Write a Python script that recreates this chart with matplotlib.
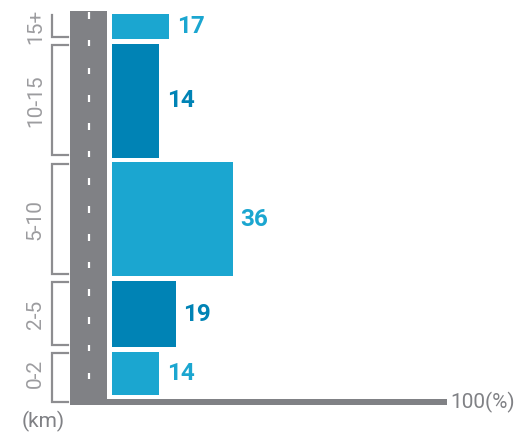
import numpy as np
import matplotlib.pyplot as plt
from matplotlib.patches import Rectangle

# distance bins (km) and share of trips (%)
categorias = ['0-2', '2-5', '5-10', '10-15', '15+']
limites = [0, 2, 5, 10, 15, 16.25]
valores = [14, 19, 36, 14, 17]

azul_claro = '#1ba6d0'
azul_oscuro = '#0083b5'
gris = '#808185'
gris_claro = '#9c9c9f'
colores = [azul_claro, azul_oscuro, azul_claro, azul_oscuro, azul_claro]

fig = plt.figure(figsize=(5.19, 4.32), dpi=100)
ax = fig.add_axes([0, 0, 1, 1])
ax.set_xlim(-33.33, 121.13)
ax.set_ylim(-1.477, 16.75)
ax.axis('off')

# carretera
ax.add_patch(Rectangle((-12.5, -0.34), 11.0, 16.63, color=gris, lw=0, zorder=1))
y_raya = np.arange(16.1, -0.2, -1.17)
ax.vlines(np.full(len(y_raya), -6.9), y_raya - 0.14, y_raya + 0.14,
          color='white', lw=1.6, zorder=2)

# eje horizontal
ax.add_patch(Rectangle((-1.6, -0.32), 101.4, 0.23, color=gris, lw=0, zorder=1))
ax.text(100.6, -0.21, '100(%)', ha='left', va='center', fontsize=15,
        color=gris, family='Roboto')
ax.text(-20.4, -1.02, '(km)', ha='center', va='center', fontsize=15,
        color=gris, family='Roboto')

hueco = 0.1
for i, (cat, val) in enumerate(zip(categorias, valores)):
    y0, y1 = limites[i], limites[i + 1]
    ax.barh(y0 + hueco, val, height=(y1 - y0) - 2 * hueco, left=0,
            align='edge', color=colores[i], lw=0, zorder=3)
    ax.text(val + 2.3, (y0 + y1) / 2, str(val), ha='left', va='center',
            fontsize=17.5, fontweight='bold', color=colores[i], family='Roboto')

    # corchete del intervalo
    b0 = -0.2 if i == 0 else y0 + 0.2
    b1 = y1 - 0.15
    xs = [-13.1, -17.86, -17.86]
    ys = [b0, b0, b1]
    if i < len(categorias) - 1:
        xs.append(-13.1)
        ys.append(b1)
    ax.plot(xs, ys, color='#8d8d90', lw=1.6, solid_joinstyle='miter', zorder=2)
    ax.text(-22.8, (y0 + y1) / 2, cat, rotation=90, ha='center', va='center',
            fontsize=15, color=gris_claro, family='Roboto')

fig.savefig('out.png', dpi=100)
